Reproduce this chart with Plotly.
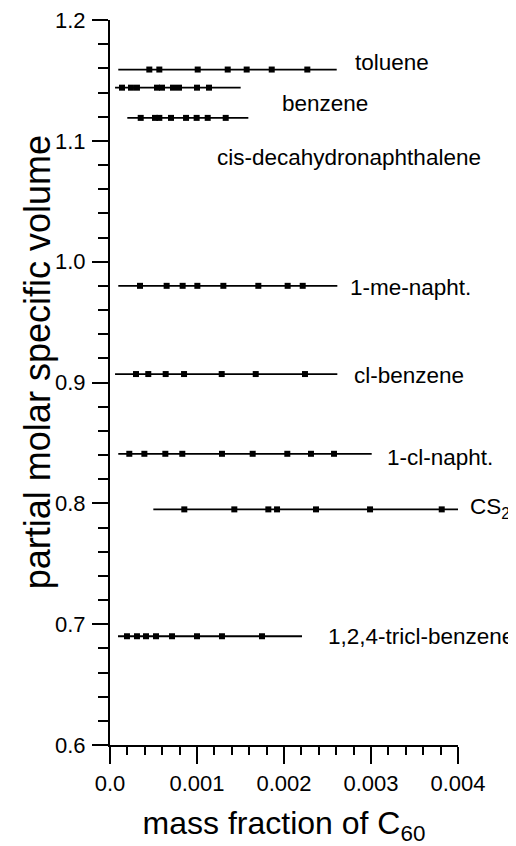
import plotly.graph_objects as go

# ---- data ----
solvents = ["toluene", "benzene", "cis-decahydronaphthalene", "1-me-napht.",
            "cl-benzene", "1-cl-napht.", "CS<sub>2</sub>", "1,2,4-tricl-benzene"]

toluene_x = [0.000452, 0.000567, 0.001008, 0.001353, 0.001571, 0.001859, 0.002268]
toluene_v = [1.159, 1.159, 1.159, 1.159, 1.159, 1.159, 1.159]

benzene_x = [0.000138, 0.000241, 0.000310, 0.000540, 0.000598, 0.000724, 0.000793, 0.001000, 0.001138]
benzene_v = [1.144, 1.144, 1.144, 1.144, 1.144, 1.144, 1.144, 1.144, 1.144]

decalin_x = [0.000353, 0.000517, 0.000567, 0.000701, 0.000874, 0.000996, 0.001123, 0.001330]
decalin_v = [1.119, 1.119, 1.119, 1.119, 1.119, 1.119, 1.119, 1.119]

menapht_x = [0.000345, 0.000651, 0.000835, 0.001004, 0.001303, 0.001705, 0.002042, 0.002215]
menapht_v = [0.980, 0.980, 0.980, 0.980, 0.980, 0.980, 0.980, 0.980]

clbenz_x = [0.000299, 0.000440, 0.000640, 0.000851, 0.001284, 0.001675, 0.002241]
clbenz_v = [0.907, 0.907, 0.907, 0.907, 0.907, 0.907, 0.907]

clnapht_x = [0.000222, 0.000395, 0.000636, 0.000831, 0.001287, 0.001640, 0.002038, 0.002310, 0.002575]
clnapht_v = [0.841, 0.841, 0.841, 0.841, 0.841, 0.841, 0.841, 0.841, 0.841]

cs2_x = [0.000854, 0.001429, 0.001820, 0.001920, 0.002368, 0.002989, 0.003813]
cs2_v = [0.795, 0.795, 0.795, 0.795, 0.795, 0.795, 0.795]

tricl_x = [0.000195, 0.000310, 0.000414, 0.000529, 0.000713, 0.001000, 0.001287, 0.001747]
tricl_v = [0.690, 0.690, 0.690, 0.690, 0.690, 0.690, 0.690, 0.690]

# fitted (mean) lines: start, end of each line and its level
fit_start = [0.000095, 0.000058, 0.000199, 0.000095, 0.000058, 0.000095, 0.000498, 0.000092]
fit_end = [0.002606, 0.001502, 0.001590, 0.002613, 0.002613, 0.003008, 0.004003, 0.002207]
fit_level = [1.159, 1.144, 1.119, 0.980, 0.907, 0.841, 0.795, 0.690]

# label anchor positions (data units)
label_x = [0.002793, 0.001954, 0.001207, 0.002736, 0.002780, 0.003160, 0.004115, 0.002480]
label_y = [1.1652, 1.1313, 1.0866, 0.9790, 0.9062, 0.8383, 0.7960, 0.6900]

xs = [toluene_x, benzene_x, decalin_x, menapht_x, clbenz_x, clnapht_x, cs2_x, tricl_x]
vs = [toluene_v, benzene_v, decalin_v, menapht_v, clbenz_v, clnapht_v, cs2_v, tricl_v]

x_range = [0.0, 0.004]
y_range = [0.6, 1.2]
x_tickvals = [0.0, 0.001, 0.002, 0.003, 0.004]
x_ticktext = ["0.0", "0.001", "0.002", "0.003", "0.004"]
y_tickvals = [0.6, 0.7, 0.8, 0.9, 1.0, 1.1, 1.2]
y_ticktext = ["0.6", "0.7", "0.8", "0.9", "1.0", "1.1", "1.2"]

FONT = "Liberation Sans, Arial, Helvetica, sans-serif"

fig = go.Figure()
for name, x0, x1, lvl in zip(solvents, fit_start, fit_end, fit_level):
    fig.add_trace(go.Scatter(x=[x0, x1], y=[lvl, lvl], mode="lines",
                             line=dict(color="black", width=1.8),
                             showlegend=False, hoverinfo="skip"))
for name, x, v in zip(solvents, xs, vs):
    fig.add_trace(go.Scatter(x=x, y=v, mode="markers", name=name,
                             marker=dict(symbol="square", size=6, color="black"),
                             showlegend=False, cliponaxis=False))

# labels placed in "x domain" units so that the CS2 label right of the axis end is kept
for name, lx, ly in zip(solvents, label_x, label_y):
    fig.add_annotation(x=(lx - x_range[0]) / (x_range[1] - x_range[0]), xref="x domain",
                       y=(ly - y_range[0]) / (y_range[1] - y_range[0]), yref="y domain",
                       text=name, showarrow=False,
                       xanchor="left", yanchor="middle",
                       font=dict(family=FONT, size=22.5, color="black"))

# y-axis title (placed slightly above the axis centre, as in the reference)
fig.add_annotation(x=-0.2098, xref="paper", y=0.528, yref="paper",
                   text="partial molar specific volume", textangle=-90, showarrow=False,
                   xanchor="center", yanchor="middle",
                   font=dict(family=FONT, size=36, color="black"))

# the page body adds an 8 px offset, so the figure is 8 px smaller than the window
fig.update_layout(
    width=508, height=838,
    margin=dict(l=102, r=58, t=12, b=101),
    plot_bgcolor="white", paper_bgcolor="white",
    font=dict(family=FONT, color="black"),
    showlegend=False,
)
fig.update_xaxes(
    range=x_range, tickvals=x_tickvals, ticktext=x_ticktext, automargin=False,
    showline=True, linecolor="black", linewidth=2.2, showgrid=False, zeroline=False,
    ticks="outside", ticklen=17, tickwidth=2, tickcolor="black",
    minor=dict(dtick=0.0002, ticks="outside", ticklen=8, tickwidth=2, tickcolor="black", showgrid=False),
    tickfont=dict(family=FONT, size=22, color="black"),
    ticklabelstandoff=0, ticklabeloverflow="allow",
    title=dict(text="mass fraction of C<sub>60</sub>", font=dict(family=FONT, size=32, color="black"),
               standoff=17),
)
fig.update_yaxes(
    range=y_range, tickvals=y_tickvals, ticktext=y_ticktext, automargin=False,
    showline=True, linecolor="black", linewidth=2.2, showgrid=False, zeroline=False,
    ticks="outside", ticklen=16, tickwidth=2, tickcolor="black",
    minor=dict(dtick=0.02, ticks="outside", ticklen=10, tickwidth=2, tickcolor="black", showgrid=False),
    tickfont=dict(family=FONT, size=22, color="black"),
    ticklabelstandoff=2, ticklabeloverflow="allow",
)

fig.write_html("out.html")
